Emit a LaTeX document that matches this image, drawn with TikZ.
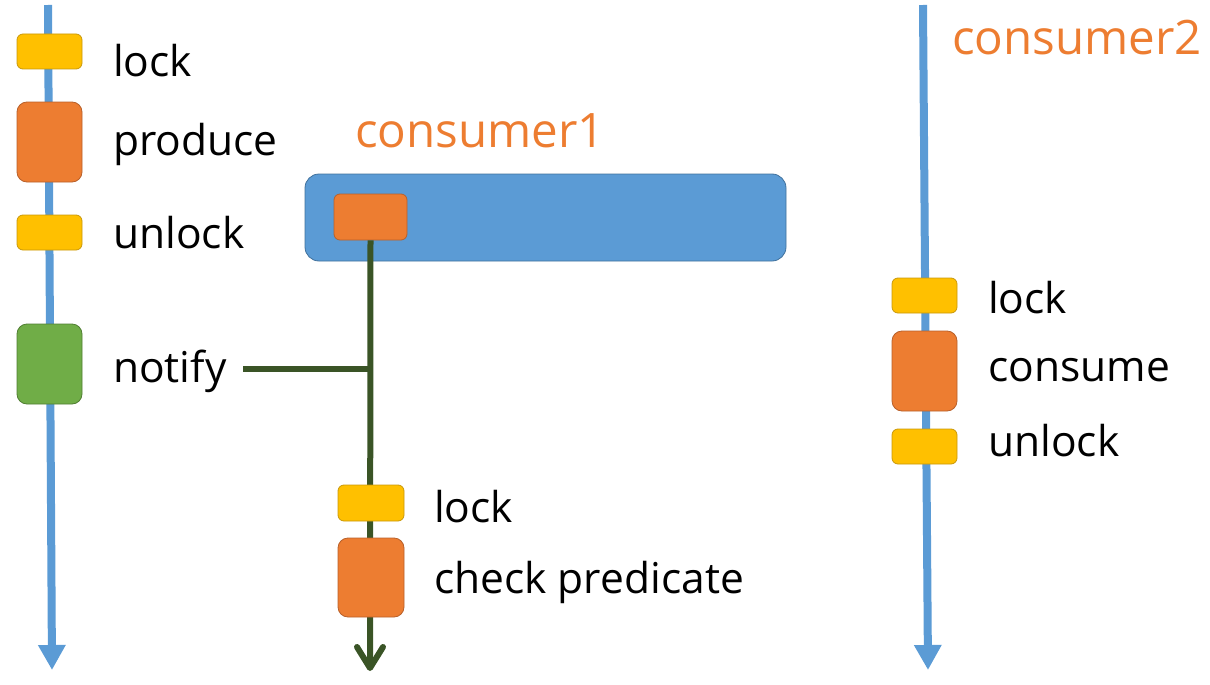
\documentclass[tikz,border=0pt]{standalone}
\usepackage{fontspec}
\setmainfont{Open Sans}
\usetikzlibrary{arrows.meta}
\definecolor{cyel}{HTML}{FFC000}
\definecolor{cyelb}{HTML}{C9980A}
\definecolor{cora}{HTML}{ED7D31}
\definecolor{corab}{HTML}{B8602A}
\definecolor{cgrn}{HTML}{70AD47}
\definecolor{cgrnb}{HTML}{507E32}
\definecolor{cblue}{HTML}{5B9BD5}
\definecolor{cblueb}{HTML}{41719C}
\definecolor{cdark}{HTML}{3A5426}
\begin{document}
\begin{tikzpicture}[x=1pt,y=-1pt,
  blk/.style={draw, line width=0.8pt, rounded corners=6pt, inner sep=0pt, minimum width=65pt},
  ylw/.style={blk, fill=cyel, draw=cyelb, minimum height=35pt},
  org/.style={blk, fill=cora, draw=corab, minimum height=80pt, rounded corners=10pt},
  grn/.style={blk, fill=cgrn, draw=cgrnb, minimum height=80pt, rounded corners=10pt},
  lbl/.style={anchor=west, inner sep=0pt, font=\fontsize{42.5}{46}\selectfont},
  title/.style={anchor=west, inner sep=0pt, text=cora, font=\fontsize{47.5}{52}\selectfont},
  bline/.style={draw=cblue, line width=8pt, -{Triangle[width=26pt,length=25pt]}},
  gline/.style={draw=cdark, line width=6pt}
]
\useasboundingbox (0,0) rectangle (1210,685);
% producer line
\coordinate (ptop) at (48,5);
\coordinate (pbot) at (52,670);
\draw[bline] (ptop) -- (pbot);
\node[ylw] (plock) at (49.5,51.5) {};
\node[org] (pprod) at (49.5,142) {};
\node[ylw] (punl) at (49.5,232.5) {};
\node[grn] (pnot) at (49.5,364) {};
\node[lbl] (tplock) at (113,61) {lock};
\node[lbl] (tpprod) at (113,144) {produce};
\node[lbl] (tpunl) at (113,233) {unlock};
\node[lbl] (tpnot) at (113,371) {notify};
% consumer1
\node[title] (c1) at (355,131) {consumer1};
\node[draw=cblueb, fill=cblue, line width=0.8pt, rounded corners=14pt, minimum width=481pt, minimum height=87pt, inner sep=0pt] (wait) at (545.5,217.5) {};
\node[blk, fill=cora, draw=corab, minimum width=73pt, minimum height=46pt] (cw) at (370.5,217) {};
\coordinate (cbot) at (370,668);
\coordinate (nfrom) at (243,369);
\coordinate (njoin) at (370,369);
\draw[gline] (cw.south) -- (cbot);
\draw[gline] (nfrom) -- (njoin);
\draw[cdark, line width=6pt, line cap=round, line join=round] (357,647) -- (cbot) -- (383,647);
\node[ylw, minimum width=66pt, minimum height=36pt] (clock) at (371,503) {};
\node[org, minimum width=66pt, minimum height=79pt] (cchk) at (371,577.5) {};
\node[lbl] (tclock) at (434,507) {lock};
\node[lbl] (tcchk) at (434,582) {check predicate};
% consumer2
\node[title] (c2) at (952,38) {consumer2};
\coordinate (qtop) at (923,5);
\coordinate (qbot) at (928,670);
\draw[bline] (qtop) -- (qbot);
\node[ylw] (qlock) at (924.5,295.5) {};
\node[org] (qcons) at (924.5,371) {};
\node[ylw] (qunl) at (924.5,446.5) {};
\node[lbl] (tqlock) at (988,298) {lock};
\node[lbl] (tqcons) at (988,370) {consume};
\node[lbl] (tqunl) at (988,441) {unlock};
\end{tikzpicture}
\end{document}
